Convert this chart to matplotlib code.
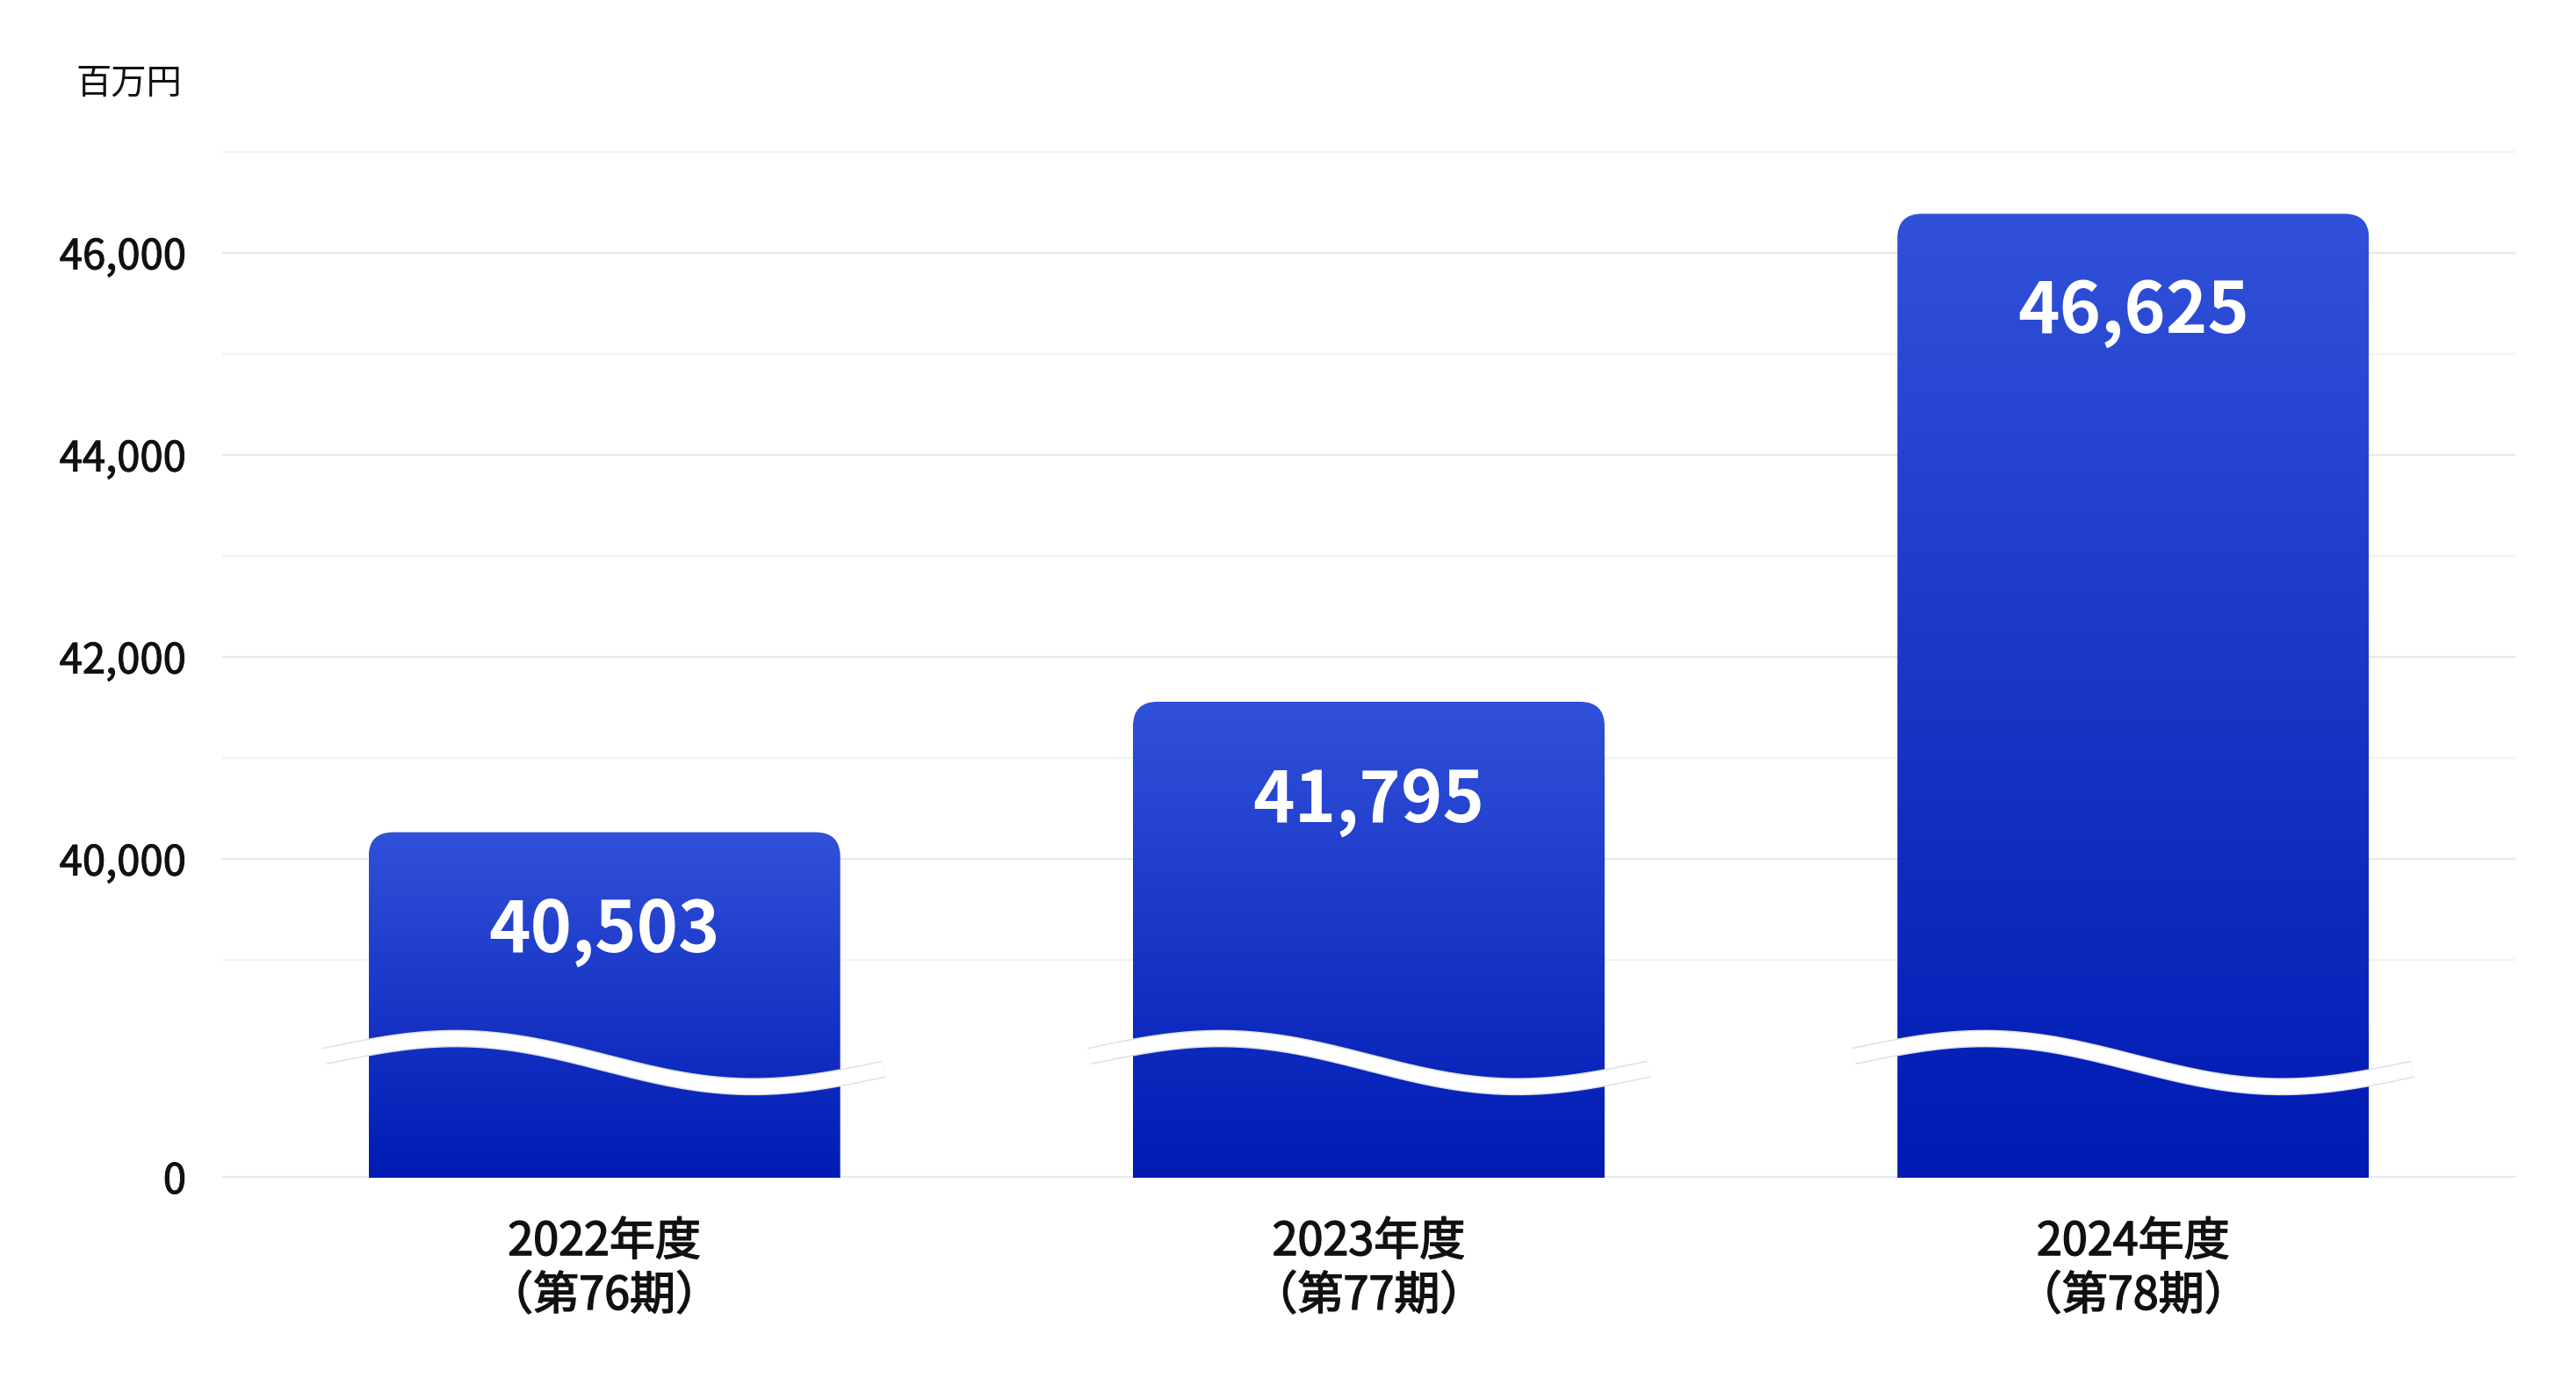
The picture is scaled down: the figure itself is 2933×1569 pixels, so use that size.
import matplotlib
matplotlib.use('Agg')
import matplotlib.pyplot as plt
import numpy as np
from matplotlib.path import Path
from matplotlib.patches import PathPatch
from matplotlib.colors import LinearSegmentedColormap
import matplotlib.transforms as mtransforms
import matplotlib.patheffects as pe

plt.rcParams['font.family'] = ['Noto Sans CJK JP', 'DejaVu Sans']

# ---------------- data ----------------
categories = ['2022年度\n（第76期）', '2023年度\n（第77期）', '2024年度\n（第78期）']
values = [40503, 41795, 46625]
value_labels = ['40,503', '41,795', '46,625']
major_ticks = [0, 40000, 42000, 44000, 46000]
major_tick_labels = ['0', '40,000', '42,000', '44,000', '46,000']
minor_grid = [39000, 41000, 43000, 45000, 47000]
unit_label = '百万円'

# ---------------- style constants ----------------
GRID_SHIFT = 240          # reference draws its grid a bit above nominal values
LINK = 38400.0            # above this the axis is linear
ZERO_POS = 37083.0        # where 0 sits on the broken axis
BAR_WIDTH = 0.617
RADIUS = 28               # px
TOP_COLOR = '#3151d9'
BOTTOM_COLOR = '#001ab3'
GRID_MAJOR = '#e4e9f0'
GRID_MINOR = '#f0f3f7'
TEXT = '#111111'
MEDIUM_Y = [pe.withStroke(linewidth=0.75, foreground=TEXT)]
MEDIUM_X = [pe.withStroke(linewidth=1.1, foreground=TEXT)]


def fwd(v):
    v = np.asarray(v, float)
    return np.where(v >= LINK, v, ZERO_POS + v * (LINK - ZERO_POS) / LINK)


def inv(y):
    y = np.asarray(y, float)
    return np.where(y >= LINK, y, (y - ZERO_POS) * LINK / (LINK - ZERO_POS))


W, H = 2933, 1569
fig = plt.figure(figsize=(W / 100, H / 100), dpi=100)
ax = fig.add_axes([253 / W, 1 - 1341 / H, (2864 - 253) / W, (1341 - 160) / H])
ax.set_yscale('function', functions=(fwd, inv))
x = np.arange(len(values))
ax.set_xlim(-0.5, len(values) - 0.5)
ax.set_ylim(0, 47350)

for s in ax.spines.values():
    s.set_visible(False)

ax.set_yticks([t + GRID_SHIFT for t in major_ticks], major_tick_labels)
ax.set_yticks([t + GRID_SHIFT for t in minor_grid], minor=True)
ax.yaxis.set_minor_formatter(plt.NullFormatter())
ax.tick_params(axis='y', which='both', length=0, pad=29.5, labelsize=34, labelcolor=TEXT)
ax.tick_params(axis='x', length=0, pad=33.5, labelsize=37.5, labelcolor=TEXT)
for lbl in ax.get_yticklabels():
    lbl.set_path_effects(MEDIUM_Y)
ax.set_xticks(x, categories)
for lbl in ax.get_xticklabels():
    lbl.set_linespacing(1.2)
    lbl.set_path_effects(MEDIUM_X)
ax.yaxis.grid(True, which='major', color=GRID_MAJOR, linewidth=1.6)
ax.yaxis.grid(True, which='minor', color=GRID_MINOR, linewidth=1.6)
ax.set_axisbelow(True)

bars = ax.bar(x, values, width=BAR_WIDTH, color='none', edgecolor='none')

cmap = LinearSegmentedColormap.from_list('g', [BOTTOM_COLOR, TOP_COLOR])
grad = np.linspace(0, 1, 256).reshape(-1, 1)
ident = mtransforms.IdentityTransform()
for r in bars:
    bb = r.get_window_extent()
    x0, x1, yb, yt = bb.x0, bb.x1, bb.y0 - 4, bb.y1
    verts = [(x0, yb), (x0, yt - RADIUS), (x0, yt), (x0 + RADIUS, yt),
             (x1 - RADIUS, yt), (x1, yt), (x1, yt - RADIUS), (x1, yb), (x0, yb)]
    codes = [Path.MOVETO, Path.LINETO, Path.CURVE3, Path.CURVE3, Path.LINETO,
             Path.CURVE3, Path.CURVE3, Path.LINETO, Path.CLOSEPOLY]
    patch = PathPatch(Path(verts, codes), transform=ident, facecolor='none',
                      edgecolor='none', zorder=2)
    ax.add_patch(patch)
    im = ax.imshow(grad, cmap=cmap, aspect='auto', origin='lower',
                   extent=(x0, x1, yb, yt), transform=ident,
                   interpolation='bilinear', zorder=2)
    im.set_clip_path(patch)

# break waves
WAVE_HALF = 0.366
WAVE_C, WAVE_A, WAVE_T = 0.111, 0.020, 0.0062
wave_tr = mtransforms.blended_transform_factory(ax.transData, ax.transAxes)
u = np.linspace(-1, 1, 300)
for xc in x:
    wx = xc + u * WAVE_HALF
    wy = WAVE_C - WAVE_A * np.sin(np.pi * u) - WAVE_T * u
    ax.plot(wx, wy, transform=wave_tr, color='white', linewidth=12,
            solid_capstyle='butt', zorder=3, clip_on=False,
            path_effects=[pe.Stroke(linewidth=14.2, foreground='#dce2eb'), pe.Normal()])

for xi, v, lab in zip(x, values, value_labels):
    ax.annotate(lab, xy=(xi, v), xytext=(0, -98), textcoords='offset points',
                ha='center', va='baseline', color='white', fontsize=58,
                fontweight='bold', zorder=4)

fig.text(207 / W, 1 - 96 / H, unit_label, ha='right', va='center', fontsize=29,
         color=TEXT)

fig.savefig('out.png', dpi=100, facecolor='white')
